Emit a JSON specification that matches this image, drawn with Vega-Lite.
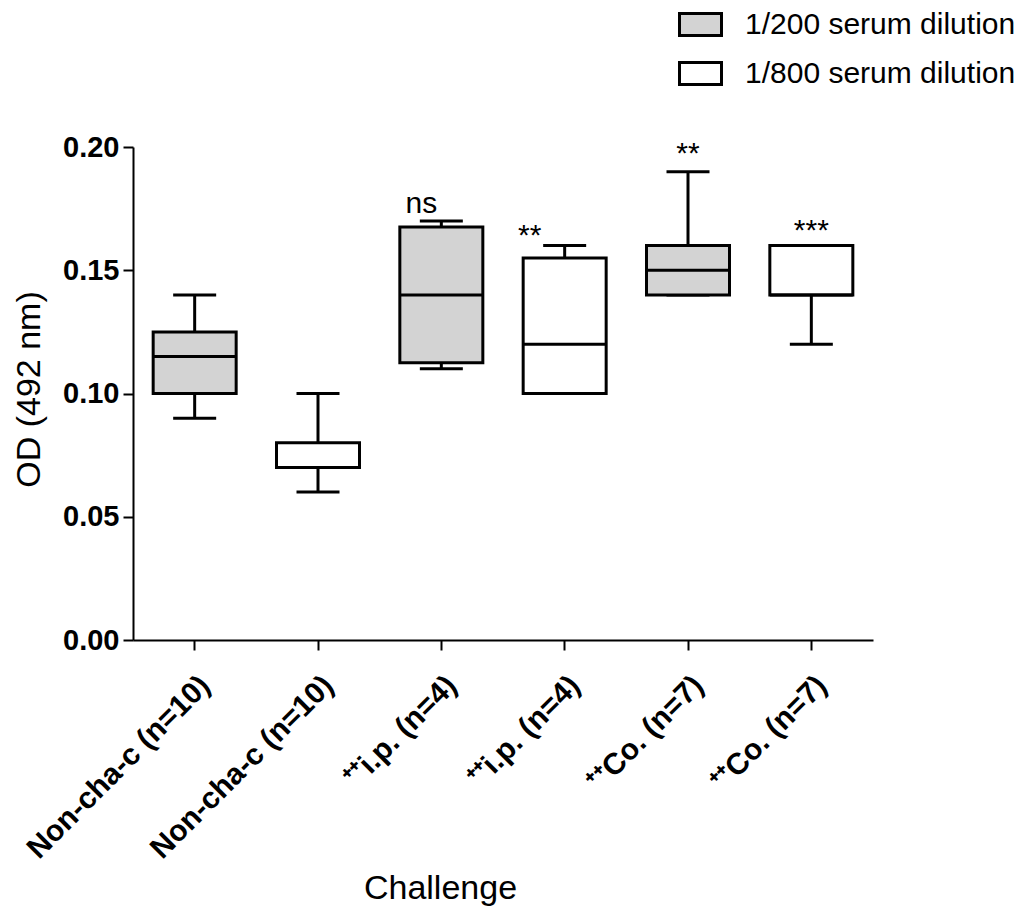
{
  "$schema": "https://vega.github.io/schema/vega-lite/v6.json",
  "autosize": "none",
  "width": 740,
  "height": 493,
  "padding": {"left": 133, "top": 147, "right": 146, "bottom": 272},
  "background": "white",
  "config": {
    "font": "Arial, Liberation Sans, sans-serif",
    "view": {"stroke": null},
    "axis": {"grid": false, "domainColor": "black", "tickColor": "black", "domainWidth": 2, "tickWidth": 2, "tickSize": 10, "labelColor": "black", "titleColor": "black", "labelLimit": 0}
  },
  "datasets": {
    "boxes": [
      {"id": "Non-cha-c (n=10)|1", "dil": "1/200 serum dilution", "min": 0.09, "q1": 0.10, "med": 0.115, "q3": 0.125, "max": 0.14},
      {"id": "Non-cha-c (n=10)|2", "dil": "1/800 serum dilution", "min": 0.06, "q1": 0.07, "med": 0.07, "q3": 0.08, "max": 0.10},
      {"id": "⁺⁺i.p. (n=4)|3", "dil": "1/200 serum dilution", "min": 0.11, "q1": 0.1125, "med": 0.14, "q3": 0.1675, "max": 0.17},
      {"id": "⁺⁺i.p. (n=4)|4", "dil": "1/800 serum dilution", "min": 0.10, "q1": 0.10, "med": 0.12, "q3": 0.155, "max": 0.16},
      {"id": "⁺⁺Co. (n=7)|5", "dil": "1/200 serum dilution", "min": 0.14, "q1": 0.14, "med": 0.15, "q3": 0.16, "max": 0.19},
      {"id": "⁺⁺Co. (n=7)|6", "dil": "1/800 serum dilution", "min": 0.12, "q1": 0.14, "med": 0.14, "q3": 0.16, "max": 0.16}
    ],
    "notes": [
      {"id": "⁺⁺i.p. (n=4)|3", "sig": "ns", "y": 0.1732, "grp": "a"},
      {"id": "⁺⁺i.p. (n=4)|4", "sig": "**", "y": 0.1602, "grp": "b"},
      {"id": "⁺⁺Co. (n=7)|5", "sig": "**", "y": 0.1935, "grp": "c"},
      {"id": "⁺⁺Co. (n=7)|6", "sig": "***", "y": 0.1623, "grp": "c"}
    ]
  },
  "encoding": {
    "x": {
      "field": "id", "type": "nominal", "sort": null,
      "scale": {"paddingInner": 0, "paddingOuter": 0},
      "axis": {
        "title": "Challenge", "titleFontSize": 34, "titleFontWeight": "normal",
        "titleX": 307, "titleY": 258, "titleBaseline": "alphabetic", "titleAlign": "center",
        "labelExpr": "split(datum.value, '|')[0]",
        "labelAngle": -45, "labelFontSize": 30, "labelFontWeight": "bold", "labelPadding": 20
      }
    }
  },
  "layer": [
    {
      "data": {"name": "boxes"},
      "mark": {"type": "rule", "color": "black", "strokeWidth": 3},
      "encoding": {
        "y": {"field": "min", "type": "quantitative", "scale": {"domain": [0, 0.2], "nice": false},
          "axis": {"title": "OD (492 nm)", "titleFontSize": 34, "titleFontWeight": "normal",
            "titleX": -94, "titleY": 242, "titleBaseline": "alphabetic", "titleAlign": "center", "titleAngle": -90,
            "values": [0, 0.05, 0.1, 0.15, 0.2], "format": ".2f",
            "labelFontSize": 29, "labelFontWeight": "bold", "labelPadding": 4}},
        "y2": {"field": "max"}
      }
    },
    {
      "data": {"name": "boxes"},
      "mark": {"type": "tick", "color": "black", "size": 43, "thickness": 3, "opacity": 1},
      "encoding": {"y": {"field": "min", "type": "quantitative"}}
    },
    {
      "data": {"name": "boxes"},
      "mark": {"type": "tick", "color": "black", "size": 43, "thickness": 3, "opacity": 1},
      "encoding": {"y": {"field": "max", "type": "quantitative"}}
    },
    {
      "data": {"name": "boxes"},
      "mark": {"type": "bar", "size": 83, "stroke": "black", "strokeWidth": 3, "opacity": 1},
      "encoding": {
        "y": {"field": "q1", "type": "quantitative"},
        "y2": {"field": "q3"},
        "fill": {
          "field": "dil", "type": "nominal",
          "scale": {"domain": ["1/200 serum dilution", "1/800 serum dilution"], "range": ["#d3d3d3", "#ffffff"]},
          "legend": {
            "title": null, "orient": "none", "legendX": 545, "legendY": -145, "padding": 0,
            "symbolType": "M-1,-0.52H1V0.52H-1Z", "symbolSize": 1764,
            "symbolStrokeColor": "black", "symbolStrokeWidth": 3, "symbolOpacity": 1,
            "labelFontSize": 30, "labelColor": "black", "labelOffset": 22, "rowPadding": 9, "labelLimit": 0
          }
        }
      }
    },
    {
      "data": {"name": "boxes"},
      "mark": {"type": "tick", "color": "black", "size": 83, "thickness": 3, "opacity": 1},
      "encoding": {"y": {"field": "med", "type": "quantitative"}}
    },
    {
      "data": {"name": "notes"},
      "transform": [{"filter": "datum.grp == 'a'"}],
      "mark": {"type": "text", "fontSize": 30, "baseline": "alphabetic", "align": "center", "dx": -20, "color": "black"},
      "encoding": {"y": {"field": "y", "type": "quantitative"}, "text": {"field": "sig"}}
    },
    {
      "data": {"name": "notes"},
      "transform": [{"filter": "datum.grp == 'b'"}],
      "mark": {"type": "text", "fontSize": 30, "baseline": "alphabetic", "align": "center", "dx": -35, "color": "black"},
      "encoding": {"y": {"field": "y", "type": "quantitative"}, "text": {"field": "sig"}}
    },
    {
      "data": {"name": "notes"},
      "transform": [{"filter": "datum.grp == 'c'"}],
      "mark": {"type": "text", "fontSize": 30, "baseline": "alphabetic", "align": "center", "color": "black"},
      "encoding": {"y": {"field": "y", "type": "quantitative"}, "text": {"field": "sig"}}
    }
  ]
}
